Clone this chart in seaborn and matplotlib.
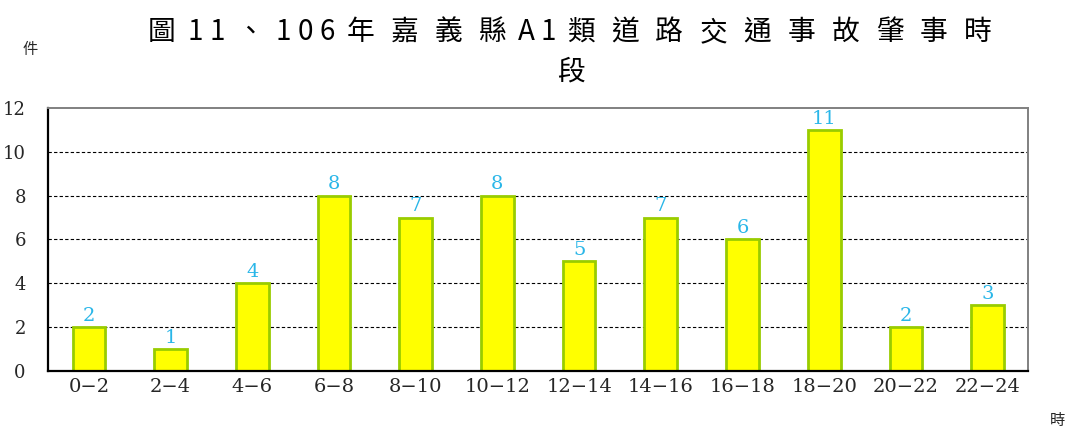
import matplotlib
matplotlib.use('Agg')
import matplotlib.pyplot as plt
import seaborn as sns
import pandas as pd
import numpy as np

# Data
periods = ['0-2', '2-4', '4-6', '6-8', '8-10', '10-12', '12-14', '14-16',
           '16-18', '18-20', '20-22', '22-24']
counts = [2, 1, 4, 8, 7, 8, 5, 7, 6, 11, 2, 3]
tick_labels = [p.replace('-', '\u2212') for p in periods]
title_line1 = '圖11、106年嘉義縣A1類道路交通事故肇事時'
title_line2 = '段'

df = pd.DataFrame({'period': periods, 'count': counts})

sns.set_style('white')
plt.rcParams['font.family'] = ['Noto Sans CJK TC', 'DejaVu Sans']
serif = ['DejaVu Serif', 'Noto Sans CJK TC']

fig = plt.figure(figsize=(10.75, 4.33), dpi=100)
ax = fig.add_axes([0.0447, 0.143, 0.912, 0.608])

sns.barplot(data=df, x='period', y='count', ax=ax, color='#FFFF00',
            width=0.4, edgecolor='#99CC00', linewidth=2, saturation=1)

for i, v in enumerate(counts):
    ax.text(i, v + 0.1, str(v), ha='center', va='bottom', color='#29B6E8',
            fontsize=14, family=serif)

ax.set_ylim(0, 12)
ax.set_xlim(-0.5, len(periods) - 0.5)
ax.set_yticks(range(0, 13, 2))
ax.set_yticklabels([str(t) for t in range(0, 13, 2)], fontsize=13, family=serif)
ax.set_xticks(range(len(periods)))
ax.set_xticklabels(tick_labels, fontsize=14, family=serif)
ax.set_xlabel('')
ax.set_ylabel('')

# dashed grid lines
for y in range(2, 12, 2):
    ax.axhline(y, color='black', linestyle=(0, (3, 2)), linewidth=0.8, zorder=0)

ax.tick_params(axis='x', length=0, pad=5)
ax.tick_params(axis='y', length=0, pad=16)
ax.set_xticks(np.arange(0.5, len(periods) - 0.5, 1), minor=True)
ax.tick_params(axis='x', which='minor', direction='in', length=4, width=1, color='black')

for side in ['left', 'bottom']:
    ax.spines[side].set_color('black')
    ax.spines[side].set_linewidth(1.6)
for side in ['top', 'right']:
    ax.spines[side].set_color('#808080')
    ax.spines[side].set_linewidth(1.4)

# title with wide character spacing like the original (laid out char by char)
W, H = 1075, 433
units = [1 if ord(c) < 128 else 2 for c in title_line1]
unit_px = (1000 - 140) / sum(units)
x = 140
for c, u in zip(title_line1, units):
    fig.text((x + u * unit_px / 2) / W, 1 - 32 / H, c, ha='center', va='center',
             fontsize=20, color='black')
    x += u * unit_px
fig.text(571 / W, 1 - 72 / H, title_line2, ha='center', va='center', fontsize=20, color='black')

fig.text(0.028, 0.885, '件', ha='center', va='center', fontsize=11)
fig.text(0.984, 0.03, '時', ha='center', va='center', fontsize=11)

fig.savefig('out.png', dpi=100)
